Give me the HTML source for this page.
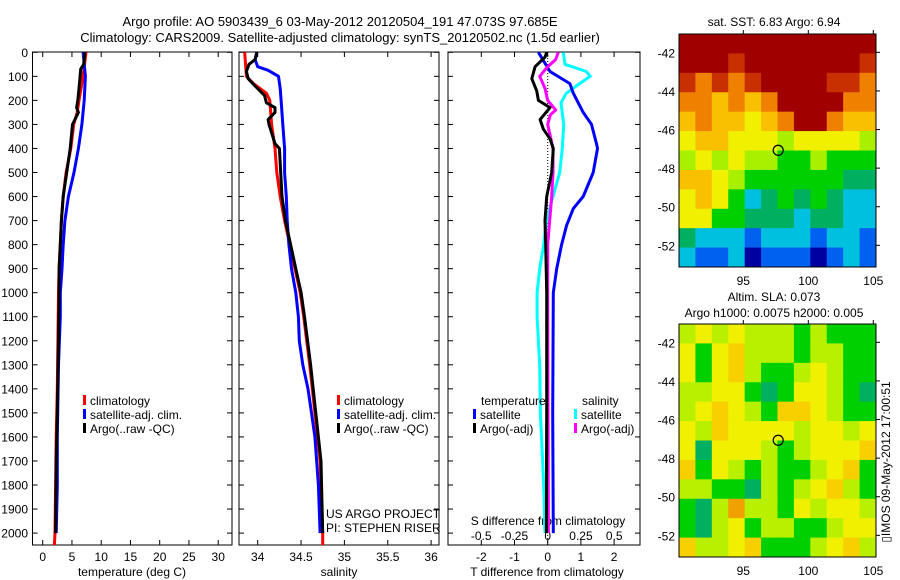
<!DOCTYPE html>
<html><head><meta charset="utf-8"><style>
html,body{margin:0;padding:0;background:#fff;}
svg{display:block;font-family:"Liberation Sans",sans-serif;}
</style></head><body>
<svg id="c" width="900" height="580" viewBox="0 0 900 580" xmlns="http://www.w3.org/2000/svg">
<text x="340" y="26" font-size="13" text-anchor="middle">Argo profile: AO 5903439_6 03-May-2012 20120504_191 47.073S 97.685E</text>
<text x="340" y="42" font-size="13" text-anchor="middle">Climatology: CARS2009. Satellite-adjusted climatology: synTS_20120502.nc (1.5d earlier)</text>
<text x="774" y="26" font-size="12" text-anchor="middle">sat. SST: 6.83 Argo: 6.94</text>
<text x="774" y="301" font-size="12" text-anchor="middle">Altim. SLA: 0.073</text>
<text x="774" y="317" font-size="12" text-anchor="middle">Argo h1000: 0.0075 h2000: 0.005</text>
<text transform="translate(890,462) rotate(-90)" font-size="12" text-anchor="middle">▯IMOS 09-May-2012 17:00:51</text>
<g id="g"></g>
</svg>
<script>
// ---- profile data ----
const tDepthClim=[0,100,200,250,300,400,500,600,700,800,900,1000,1200,1400,1600,1800,2000,2050];
const tClim=[7.4,6.9,6.2,5.9,5.3,4.8,4.0,3.5,3.2,3.0,2.8,2.7,2.6,2.5,2.3,2.2,2.1,2.0];
const tDepthSat=[0,100,200,300,400,500,600,700,800,900,1000,1100,1300,1600,1800,2000];
const tSat=[6.9,7.3,7.1,6.7,6.1,5.35,4.4,3.8,3.5,3.3,3.0,3.0,2.7,2.5,2.5,2.3];
const tDepthArgo=[0,50,70,100,150,200,230,250,280,300,400,500,600,700,800,900,1000,1200,1500,1700,2000];
const tArgo=[7.2,7.0,6.5,6.4,6.2,6.0,5.8,6.1,5.5,5.1,4.7,4.1,3.5,3.2,3.0,2.8,2.8,2.7,2.5,2.3,2.2];

const sDepthClim=[0,100,130,170,200,300,400,500,600,700,800,900,1000,1100,1300,1500,1700,1800,2000,2050];
const sClim=[33.85,33.87,33.95,34.1,34.14,34.16,34.2,34.22,34.26,34.31,34.37,34.43,34.49,34.53,34.6,34.66,34.72,34.73,34.75,34.75];
const sDepthSat=[0,30,60,75,100,150,200,300,400,500,600,700,800,900,1000,1100,1200,1300,1400,1500,1600,1800,2000];
const sSat=[33.99,33.97,34.0,34.12,34.24,34.26,34.27,34.29,34.31,34.31,34.33,34.34,34.36,34.39,34.44,34.47,34.48,34.52,34.58,34.62,34.66,34.7,34.72];
const sDepthArgo=[0,30,50,80,110,140,180,210,230,250,280,300,380,400,600,700,800,900,1000,1100,1300,1500,1700,2000];
const sArgo=[33.99,33.97,33.9,33.87,33.89,33.97,34.08,34.1,34.2,34.2,34.12,34.13,34.2,34.25,34.28,34.32,34.38,34.44,34.5,34.54,34.61,34.67,34.73,34.75];

const dDepthTSat=[0,80,130,170,250,300,380,400,500,600,650,720,800,900,1000,1500,2000];
const dTSat=[-0.28,0.07,0.67,0.77,1.07,1.32,1.47,1.5,1.37,1.07,0.77,0.57,0.42,0.27,0.17,0.15,0.17];
const dDepthTArgo=[0,20,60,110,160,200,230,280,320,360,400,500,600,700,800,1000,1500,2000];
const dTArgo=[-0.03,-0.08,-0.38,-0.48,-0.33,-0.28,0.07,-0.23,-0.13,0.07,0.17,0.12,-0.03,-0.08,-0.06,-0.03,-0.03,-0.04];
const dDepthSSat=[0,50,80,100,130,170,210,300,400,500,600,700,800,900,1000,1100,1300,1500,1800,2000];
const dSSat=[0.117,0.13,0.29,0.32,0.24,0.14,0.1,0.12,0.11,0.09,0.04,-0.01,-0.03,-0.06,-0.08,-0.08,-0.06,-0.055,-0.03,-0.02];
const dDepthSArgo=[0,30,60,100,150,200,240,260,300,400,500,600,800,1000,2000];
const dSArgo=[0.08,0.06,0.0,-0.06,-0.02,0,0.06,0.02,0,0.04,0.04,0.03,0.0,0,0.005];

const depthTicks=[0,100,200,300,400,500,600,700,800,900,1000,1100,1200,1300,1400,1500,1600,1700,1800,1900,2000];
const tempTicks=[0,5,10,15,20,25,30];
const salTicks=[34,34.5,35,35.5,36];
const salTickLabels=["34","34.5","35","35.5","36"];
const dTTicks=[-2,-1,0,1,2];
const dSTicks=[-0.5,-0.25,0,0.25,0.5];
const dSTickLabels=["-0.5","-0.25","0","0.25","0.5"];

// ---- map data ----
const latTicks=[-42,-44,-46,-48,-50,-52];
const lonTicks=[95,100,105];
const sstGrid=[
[9,9,9,9,9,9,9,9,9,9,9,9],
[9,9,9,8,9,9,9,9,9,9,9,8],
[8,7,8,7,8,9,9,9,9,8,8,7],
[7,7,6,7,6,7,9,9,9,9,7,7],
[6,7,6,6,5,6,7,9,9,7,6,6],
[5,6,6,5,5,5,4,5,5,5,5,4],
[4,5,4,5,4,4,3,3,4,3,3,3],
[6,6,5,4,3,3,3,3,3,3,2,2],
[5,6,5,3,1,2,3,2,3,2,1,1],
[5,5,3,3,2,2,2,1,2,2,1,1],
[2,1,1,1,0,1,1,1,0,1,1,0],
[1,0,0,1,-1,0,0,0,-1,0,1,0]];
const slaGrid=[
[2,3,2,3,2,2,2,1,2,1,1,1],
[3,1,3,4,2,2,2,1,2,2,1,1],
[3,1,3,4,2,1,1,2,3,2,1,1],
[2,2,3,3,1,0,1,3,3,2,1,0],
[2,3,4,3,2,1,4,4,3,2,1,1],
[3,2,4,3,3,3,3,2,3,3,2,3],
[3,0,3,3,3,2,1,2,3,3,3,4],
[4,1,3,2,1,2,1,1,2,3,4,1],
[2,2,1,1,0,2,1,2,3,4,2,1],
[1,0,2,5,2,2,1,3,2,3,3,2],
[1,0,2,3,1,2,2,1,1,2,3,3],
[4,2,2,3,4,1,1,1,2,3,4,2]];
const argoLon=97.685, argoLat=-47.073;

const NS="http://www.w3.org/2000/svg";
const G=document.getElementById('g');
function mk(tag,attrs,parent){const e=document.createElementNS(NS,tag);for(const k in attrs)e.setAttribute(k,attrs[k]);(parent||G).appendChild(e);return e;}
function txt(x,y,s,size,anchor,parent){const e=mk('text',{x:x,y:y,'font-size':size,'text-anchor':anchor},parent);e.textContent=s;return e;}

const TOP=52,BOT=545;
const yD=d=>52.3+d*0.2404;
const xT=t=>42.7+t*5.85;
const xS=s=>257.7+(s-34)*86.7;
const xDT=t=>547.7+t*33.2;
const xDS=s=>547.7+s*133;

const panels=[[32.5,232,'temperature-panel'],[239,439,'salinity-panel'],[448,640,'difference-panel']];
panels.forEach(p=>{
  const r=mk('rect',{x:p[0],y:TOP,width:p[1]-p[0],height:BOT-TOP,fill:'none',stroke:'#000','stroke-width':1});
  
  
  depthTicks.forEach(d=>{mk('line',{x1:p[0],x2:p[0]+5,y1:yD(d),y2:yD(d),stroke:'#000'});mk('line',{x1:p[1],x2:p[1]-5,y1:yD(d),y2:yD(d),stroke:'#000'});});
});
depthTicks.forEach(d=>{
  const t=txt(28,yD(d)+4.5,String(d),12,'end');
  
  
});
tempTicks.forEach(v=>{const x=xT(v);mk('line',{x1:x,x2:x,y1:TOP,y2:TOP+5,stroke:'#000'});mk('line',{x1:x,x2:x,y1:BOT,y2:BOT-5,stroke:'#000'});
  const t=txt(x,561,String(v),12,'middle');});
salTicks.forEach((v,i)=>{const x=xS(v);mk('line',{x1:x,x2:x,y1:TOP,y2:TOP+5,stroke:'#000'});mk('line',{x1:x,x2:x,y1:BOT,y2:BOT-5,stroke:'#000'});
  const t=txt(x,561,salTickLabels[i],12,'middle');});
dTTicks.forEach(v=>{const x=xDT(v);mk('line',{x1:x,x2:x,y1:TOP,y2:TOP+5,stroke:'#000'});mk('line',{x1:x,x2:x,y1:BOT,y2:BOT-5,stroke:'#000'});
  const t=txt(x,561,String(v),12,'middle');});
dSTicks.forEach((v,i)=>{const t=txt(xDS(v),540,dSTickLabels[i],12,'middle');});
[[132,'temperature (deg C)','temperature-axis-title'],[339,'salinity','salinity-axis-title'],[547,'T difference from climatology','t-diff-axis-title']].forEach(a=>{
  const t=txt(a[0],576,a[1],12,'middle');});
{const t=txt(548,525,'S difference from climatology',12,'middle');}
{const t=txt(326,518,'US ARGO PROJECT',12,'start');
 const u=txt(326,532,'PI: STEPHEN RISER',12,'start');}
// zero dotted line
mk('line',{x1:xDT(0),x2:xDT(0),y1:TOP,y2:BOT,stroke:'#000','stroke-dasharray':'1,2'});

function line(depths,vals,xf,color,name){
  const pts=depths.map((d,i)=>xf(vals[i]).toFixed(1)+','+yD(d).toFixed(1)).join(' ');
  const e=mk('polyline',{points:pts,fill:'none',stroke:color,'stroke-width':3,'stroke-linejoin':'round'});
  
  
}
line(tDepthClim,tClim,xT,'#f00','temp-climatology-line');
line(tDepthSat,tSat,xT,'#00f','temp-satellite-line');
line(tDepthArgo,tArgo,xT,'#000','temp-argo-line');
line(sDepthClim,sClim,xS,'#f00','sal-climatology-line');
line(sDepthSat,sSat,xS,'#00f','sal-satellite-line');
line(sDepthArgo,sArgo,xS,'#000','sal-argo-line');
line(dDepthSSat,dSSat,xDS,'#0ff','s-diff-satellite-line');
line(dDepthTSat,dTSat,xDT,'#00f','t-diff-satellite-line');
line(dDepthSArgo,dSArgo,xDS,'#f0f','s-diff-argo-line');
line(dDepthTArgo,dTArgo,xDT,'#000','t-diff-argo-line');

function legend(x,y,items){
  items.forEach((it,i)=>{
    const yy=y+i*14;
    mk('rect',{x:x,y:yy-10,width:3,height:10,fill:it[1]});
    const t=txt(x+7,yy,it[0],12,'start');
    
    
  });
}
legend(83,405,[['climatology','#f00'],['satellite-adj. clim.','#00f'],['Argo(..raw -QC)','#000']]);
legend(337,405,[['climatology','#f00'],['satellite-adj. clim.','#00f'],['Argo(..raw -QC)','#000']]);
{const t=txt(481,405,'temperature',12,'start');
 const u=txt(582,405,'salinity',12,'start');}
legend(473,419,[['satellite','#00f'],['Argo(-adj)','#000']]);
legend(574,419,[['satellite','#0ff'],['Argo(-adj)','#f0f']]);

// ---- maps ----
const sstColors={'-1':'#0000a0','0':'#0060f0','1':'#00c0e0','2':'#00b060','3':'#00d000','4':'#a8f000','5':'#f0f000','6':'#f8c000','7':'#f08000','8':'#c83000','9':'#a00000'};
const slaColors={'0':'#00b060','1':'#00d000','2':'#b8f000','3':'#f0f000','4':'#f8d000','5':'#f0a000'};
function map(y0,grid,colors,name,latTop){
  const x0=679,x1=876,y1=y0+233;
  const lx=lon=>743.3+(lon-95)*13;
  const ly=lat=>y0+(latTop-lat)*19.3;
  const g=mk('g',{});
  
  
  const rows=grid.length,cols=grid[0].length,cw=(x1-x0)/cols,rh=(y1-y0)/rows;
  grid.forEach((row,r)=>row.forEach((v,c)=>{
    const cell=mk('rect',{x:x0+c*cw,y:y0+r*rh,width:cw+0.5,height:rh+0.5,fill:colors[String(v)]},g);
    
    
  }));
  mk('rect',{x:x0,y:y0,width:x1-x0,height:y1-y0,fill:'none',stroke:'#000'},g);
  latTicks.forEach(l=>{const y=ly(l);mk('line',{x1:x1,x2:x1+4,y1:y,y2:y,stroke:'#000'},g);
    const t=txt(x0-4,y+5,String(l),12,'end',g);});
  lonTicks.forEach(l=>{const x=lx(l);mk('line',{x1:x,x2:x,y1:y0-4,y2:y0,stroke:'#000'},g);
    const t=txt(x,y1+18,String(l),12,'middle',g);});
  const m=mk('circle',{cx:lx(argoLon),cy:ly(argoLat),r:5,fill:'none',stroke:'#000','stroke-width':1.2},g);
  
  
}
map(34,sstGrid,sstColors,'sst-map',-41.05);
map(324,slaGrid,slaColors,'sla-map',-41.05);
</script>
</body></html>
